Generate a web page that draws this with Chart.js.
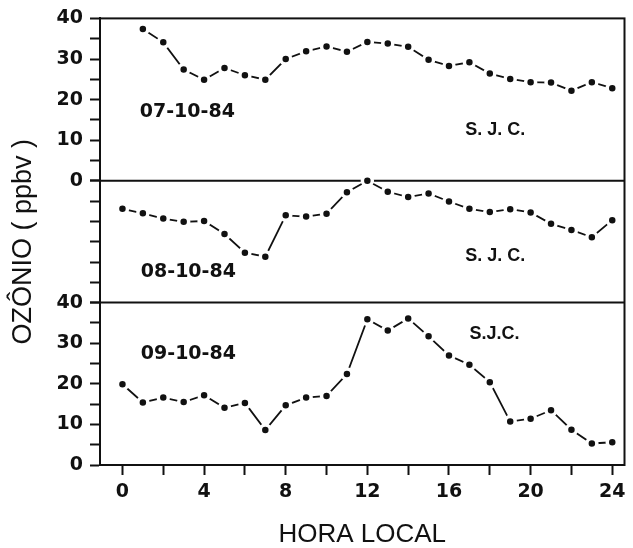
<!DOCTYPE html>
<html>
<head>
<meta charset="utf-8">
<script src="https://cdn.jsdelivr.net/npm/chart.js@4.4.1/dist/chart.umd.min.js"></script>
<style>
  html, body { margin: 0; padding: 0; background: #fff; }
  #wrap { width: 633px; height: 548px; position: relative; }
</style>
</head>
<body>
<div id="wrap"><canvas id="ozone"></canvas></div>
<script>
'use strict';

// ── Data ─────────────────────────────────────────────────────────
const hours = [0, 1, 2, 3, 4, 5, 6, 7, 8, 9, 10, 11, 12, 13, 14, 15, 16, 17, 18, 19, 20, 21, 22, 23, 24];

// ozone (ppbv), one value per local hour
const o3Oct07 = [null, 37.4, 34.1, 27.4, 24.9, 27.8, 26.0, 24.9, 30.0, 31.9, 33.1, 31.8, 34.2,
  33.8, 33.0, 29.8, 28.3, 29.2, 26.4, 25.1, 24.3, 24.2, 22.2, 24.3, 22.8];
const o3Oct08 = [23.1, 22.0, 20.7, 19.9, 20.1, 16.9, 12.3, 11.3, 21.5, 21.2, 21.9, 27.2, 30.0,
  27.3, 26.0, 26.9, 24.9, 23.1, 22.3, 23.0, 22.2, 19.4, 17.9, 16.1, 20.3];
const o3Oct09 = [19.9, 15.4, 16.6, 15.5, 17.2, 14.1, 15.3, 8.6, 14.7, 16.6, 17.0, 22.4, 35.9,
  33.1, 36.1, 31.7, 27.0, 24.7, 20.4, 10.7, 11.4, 13.5, 8.7, 5.3, 5.6];

const xTickValues = [0, 2, 4, 6, 8, 10, 12, 14, 16, 18, 20, 22, 24];
const yTickValues = [0, 5, 10, 15, 20, 25, 30, 35, 40];
const yMidTickValues = [0, 5, 10, 15, 20, 25, 30];

const panelDates = ['07-10-84', '08-10-84', '09-10-84'];
const siteLabels = ['S. J. C.', 'S. J. C.', 'S.J.C.'];
// label anchors in data units: [hour, ppbv]
const datePos = [[0.85, 17], [0.9, 7.4], [0.9, 27.4]];
const sitePos = [[16.8, 12.4], [16.8, 11.5], [17.0, 32.3]];

const panelIds = ['yTop', 'yMid', 'yBot'];

// ── Helpers ──────────────────────────────────────────────────────
const toPoints = (vals) => hours.map((h, i) => ({ x: h, y: vals[i] })).filter((p) => p.y != null);
const setTicks = (values) => (scale) => { scale.ticks = values.map((v) => ({ value: v })); };

function lineSet(vals, axis) {
  return {
    data: toPoints(vals),
    yAxisID: axis,
    borderColor: '#111',
    borderWidth: 1.8,
    pointRadius: 5,
    pointBorderWidth: 3.5,
    pointBackgroundColor: '#111',
    pointBorderColor: '#fff',
    tension: 0,
    clip: false,
  };
}

function yScale(values, weight, stackWeight, max, labelled) {
  return {
    type: 'linear',
    position: 'left',
    stack: 'o3',
    stackWeight: stackWeight,
    weight: weight,
    min: 0,
    max: max,
    afterBuildTicks: setTicks(values),
    afterFit: (s) => { s.width = 100; },
    border: { display: true, color: '#111', width: 2 },
    grid: { drawOnChartArea: false, tickLength: 10, tickWidth: 2, tickColor: '#111' },
    ticks: {
      autoSkip: false,
      color: '#111',
      padding: 7,
      font: { family: 'DejaVu Sans', size: 19, weight: 'bold' },
      callback: (v) => (labelled && v % 10 === 0 ? String(v) : ''),
    },
  };
}

// frame + panel separators + panel labels
const framePlugin = {
  id: 'frame',
  beforeDatasetsDraw(chart) {
    const { ctx, chartArea: a, scales } = chart;
    ctx.save();
    ctx.strokeStyle = '#111';
    ctx.lineWidth = 2;
    ctx.strokeRect(a.left, a.top, a.right - a.left, a.bottom - a.top);
    ctx.beginPath();
    [scales.yMid.top, scales.yMid.bottom].forEach((y) => {
      ctx.moveTo(a.left, y);
      ctx.lineTo(a.right, y);
    });
    ctx.stroke();
    ctx.restore();
  },
  afterDatasetsDraw(chart) {
    const { ctx, scales } = chart;
    ctx.save();
    ctx.fillStyle = '#111';
    ctx.textBaseline = 'middle';
    ctx.textAlign = 'left';
    panelIds.forEach((id, i) => {
      const ys = scales[id];
      ctx.font = 'bold 19px "DejaVu Sans"';
      ctx.fillText(panelDates[i], scales.x.getPixelForValue(datePos[i][0]), ys.getPixelForValue(datePos[i][1]));
      ctx.font = 'bold 18px "Liberation Sans"';
      ctx.fillText(siteLabels[i], scales.x.getPixelForValue(sitePos[i][0]), ys.getPixelForValue(sitePos[i][1]));
    });
    ctx.restore();
  },
};

// ── Chart ────────────────────────────────────────────────────────
const midScale = yScale(yMidTickValues, 2, 30, 30, false);
midScale.title = {
  display: true,
  text: 'OZÔNIO ( ppbv )',
  color: '#111',
  padding: { top: 10, bottom: 0 },
  font: { family: 'Liberation Sans', size: 27, lineHeight: 1 },
};

new Chart(document.getElementById('ozone').getContext('2d'), {
  type: 'line',
  data: {
    datasets: [
      lineSet(o3Oct07, 'yTop'),
      lineSet(o3Oct08, 'yMid'),
      lineSet(o3Oct09, 'yBot'),
    ],
  },
  options: {
    responsive: true,
    maintainAspectRatio: false,
    animation: false,
    layout: { padding: { top: 13, right: 3, left: 0, bottom: 0 } },
    plugins: { legend: { display: false }, tooltip: { enabled: false } },
    scales: {
      x: {
        type: 'linear',
        min: -1.1,
        max: 24.6,
        afterBuildTicks: setTicks(xTickValues),
        afterFit: (s) => { s.height = 83; },
        border: { display: true, color: '#111', width: 2 },
        grid: { drawOnChartArea: false, tickLength: 10, tickWidth: 2, tickColor: '#111' },
        ticks: {
          autoSkip: false,
          color: '#111',
          padding: 6,
          maxRotation: 0,
          font: { family: 'DejaVu Sans', size: 19, weight: 'bold' },
          callback: (v) => (v % 4 === 0 ? String(v) : ''),
        },
        title: {
          display: true,
          text: 'HORA LOCAL',
          color: '#111',
          padding: { top: 0, bottom: 0 },
          font: { family: 'Liberation Sans', size: 26, lineHeight: 1 },
        },
      },
      yBot: yScale(yTickValues, 1, 40, 40, true),
      yMid: midScale,
      yTop: yScale(yTickValues, 3, 40, 40, true),
    },
  },
  plugins: [framePlugin],
});
</script>
</body>
</html>
